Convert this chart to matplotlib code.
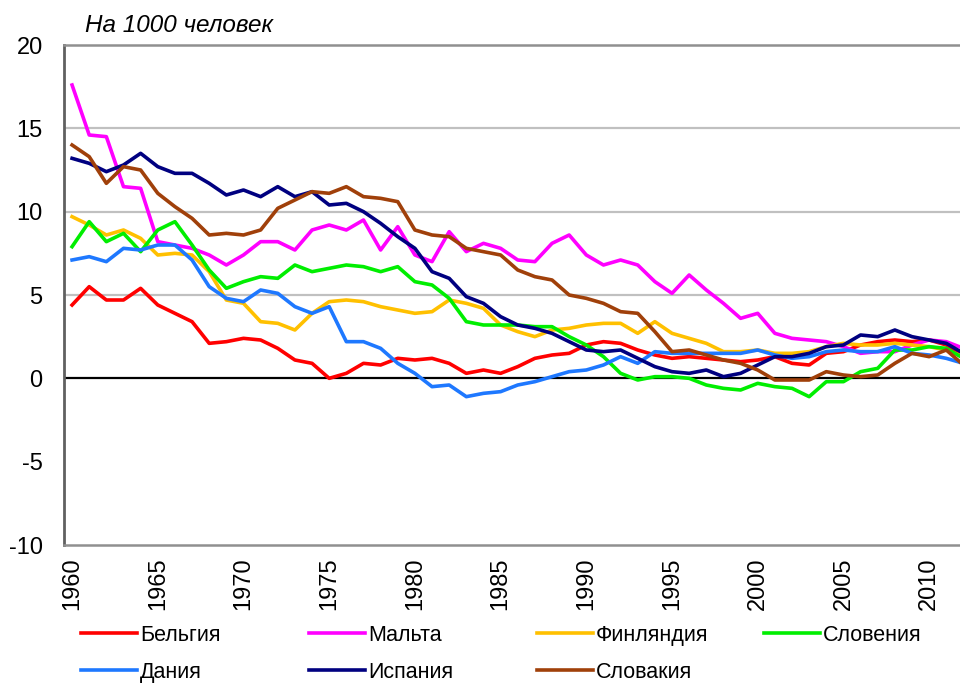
import matplotlib
matplotlib.use("Agg")
import matplotlib.pyplot as plt
import numpy as np

plt.rcParams['font.family'] = ['Liberation Sans', 'DejaVu Sans']
plt.rcParams['axes.unicode_minus'] = False

years = list(range(1960, 2013))

belgium = [4.4, 5.5, 4.7, 4.7, 5.4, 4.4, 3.9, 3.4, 2.1, 2.2,
           2.4, 2.3, 1.8, 1.1, 0.9, 0.0, 0.3, 0.9, 0.8, 1.2,
           1.1, 1.2, 0.9, 0.3, 0.5, 0.3, 0.7, 1.2, 1.4, 1.5,
           2.0, 2.2, 2.1, 1.7, 1.4, 1.2, 1.3, 1.2, 1.1, 1.0,
           1.1, 1.3, 0.9, 0.8, 1.5, 1.6, 2.0, 2.2, 2.3, 2.2,
           2.3, 2.0, 1.3]
malta = [17.6, 14.6, 14.5, 11.5, 11.4, 8.2, 8.0, 7.8, 7.4, 6.8,
         7.4, 8.2, 8.2, 7.7, 8.9, 9.2, 8.9, 9.5, 7.7, 9.1,
         7.4, 7.0, 8.8, 7.6, 8.1, 7.8, 7.1, 7.0, 8.1, 8.6,
         7.4, 6.8, 7.1, 6.8, 5.8, 5.1, 6.2, 5.3, 4.5, 3.6,
         3.9, 2.7, 2.4, 2.3, 2.2, 1.9, 1.5, 1.6, 1.6, 2.0,
         2.3, 2.2, 1.8]
finland = [9.7, 9.2, 8.6, 8.9, 8.4, 7.4, 7.5, 7.4, 6.4, 4.7,
           4.5, 3.4, 3.3, 2.9, 3.9, 4.6, 4.7, 4.6, 4.3, 4.1,
           3.9, 4.0, 4.7, 4.5, 4.2, 3.2, 2.8, 2.5, 2.9, 3.0,
           3.2, 3.3, 3.3, 2.7, 3.4, 2.7, 2.4, 2.1, 1.6, 1.6,
           1.7, 1.5, 1.5, 1.6, 1.9, 2.1, 2.0, 2.0, 2.1, 2.0,
           1.9, 1.7, 1.3]
slovenia = [7.9, 9.4, 8.2, 8.7, 7.6, 8.9, 9.4, 8.0, 6.5, 5.4,
            5.8, 6.1, 6.0, 6.8, 6.4, 6.6, 6.8, 6.7, 6.4, 6.7,
            5.8, 5.6, 4.8, 3.4, 3.2, 3.2, 3.2, 3.1, 3.1, 2.5,
            2.0, 1.3, 0.3, -0.1, 0.1, 0.1, 0.0, -0.4, -0.6, -0.7,
            -0.3, -0.5, -0.6, -1.1, -0.2, -0.2, 0.4, 0.6, 1.7, 1.7,
            1.9, 1.8, 1.2]
denmark = [7.1, 7.3, 7.0, 7.8, 7.7, 8.0, 8.0, 7.1, 5.5, 4.8,
           4.6, 5.3, 5.1, 4.3, 3.9, 4.3, 2.2, 2.2, 1.8, 0.9,
           0.3, -0.5, -0.4, -1.1, -0.9, -0.8, -0.4, -0.2, 0.1, 0.4,
           0.5, 0.8, 1.3, 0.9, 1.6, 1.5, 1.5, 1.5, 1.5, 1.5,
           1.7, 1.4, 1.2, 1.3, 1.6, 1.7, 1.6, 1.6, 1.9, 1.5,
           1.4, 1.2, 0.9]
spain = [13.2, 12.9, 12.4, 12.8, 13.5, 12.7, 12.3, 12.3, 11.7, 11.0,
         11.3, 10.9, 11.5, 10.9, 11.2, 10.4, 10.5, 10.0, 9.3, 8.5,
         7.8, 6.4, 6.0, 4.9, 4.5, 3.7, 3.2, 3.0, 2.7, 2.2,
         1.7, 1.6, 1.7, 1.2, 0.7, 0.4, 0.3, 0.5, 0.1, 0.3,
         0.8, 1.3, 1.3, 1.5, 1.9, 2.0, 2.6, 2.5, 2.9, 2.5,
         2.3, 2.1, 1.5]
slovakia = [14.0, 13.3, 11.7, 12.7, 12.5, 11.1, 10.3, 9.6, 8.6, 8.7,
            8.6, 8.9, 10.2, 10.7, 11.2, 11.1, 11.5, 10.9, 10.8, 10.6,
            8.9, 8.6, 8.5, 7.8, 7.6, 7.4, 6.5, 6.1, 5.9, 5.0,
            4.8, 4.5, 4.0, 3.9, 2.8, 1.6, 1.7, 1.4, 1.1, 0.9,
            0.5, -0.1, -0.1, -0.1, 0.4, 0.2, 0.1, 0.2, 0.9, 1.5,
            1.3, 1.7, 0.8]

names = ['Бельгия', 'Мальта', 'Финляндия', 'Словения', 'Дания', 'Испания', 'Словакия']
series = [belgium, malta, finland, slovenia, denmark, spain, slovakia]
colors = ['#FF0000', '#FF00FF', '#FFC000', '#00EE00', '#1E78FF', '#000080', '#A0400A']

ytick_vals = [-10, -5, 0, 5, 10, 15, 20]
xtick_vals = list(range(1960, 2011, 5))

W, H = 960, 684
fig = plt.figure(figsize=(W / 100, H / 100), dpi=100)
ax = fig.add_axes([63.5 / W, 139 / H, (972 - 63.5) / W, 500 / H])

for v in [5, 10, 15]:
    ax.axhline(v, color='#C0C0C0', lw=1.6, zorder=1)
ax.axhline(0, color='black', lw=1.6, zorder=2)

lines = []
for name, vals, c in zip(names, series, colors):
    ln, = ax.plot(years, vals, color=c, lw=2.6, solid_joinstyle='round', zorder=3, label=name)
    lines.append(ln)

ax.set_xlim(1959.5, 2012.5)
ax.set_ylim(-10, 20)
ax.set_yticks(ytick_vals)
ax.set_xticks(xtick_vals)
ax.set_xticklabels([str(x) for x in xtick_vals], rotation=90, fontsize=17, va='top')
ax.tick_params(axis='x', length=0, pad=9)
ax.tick_params(axis='y', length=0, pad=15, labelsize=17)
for lab in ax.get_yticklabels():
    lab.set_horizontalalignment('right')

ax.spines['left'].set_color('#606060')
ax.spines['left'].set_linewidth(2)
for s in ['top', 'bottom', 'right']:
    ax.spines[s].set_color('#909090')
    ax.spines[s].set_linewidth(1.8)

fig.text(85 / W, 1 - 25 / H, 'На 1000 человек', fontsize=17.5, style='italic', va='center', ha='left')

leg_pos = [(81, 625), (309, 625), (537, 625), (764, 625), (81, 662), (309, 662), (537, 662)]
for ln, name, (px, py) in zip(lines, names, leg_pos):
    fig.legend(handles=[ln], labels=[name], loc='upper left',
               bbox_to_anchor=(px / W, 1 - py / H), frameon=False,
               borderpad=0, borderaxespad=0, handlelength=2.6, handletextpad=0.15,
               fontsize=15.5)

fig.savefig('out.png', dpi=100)
